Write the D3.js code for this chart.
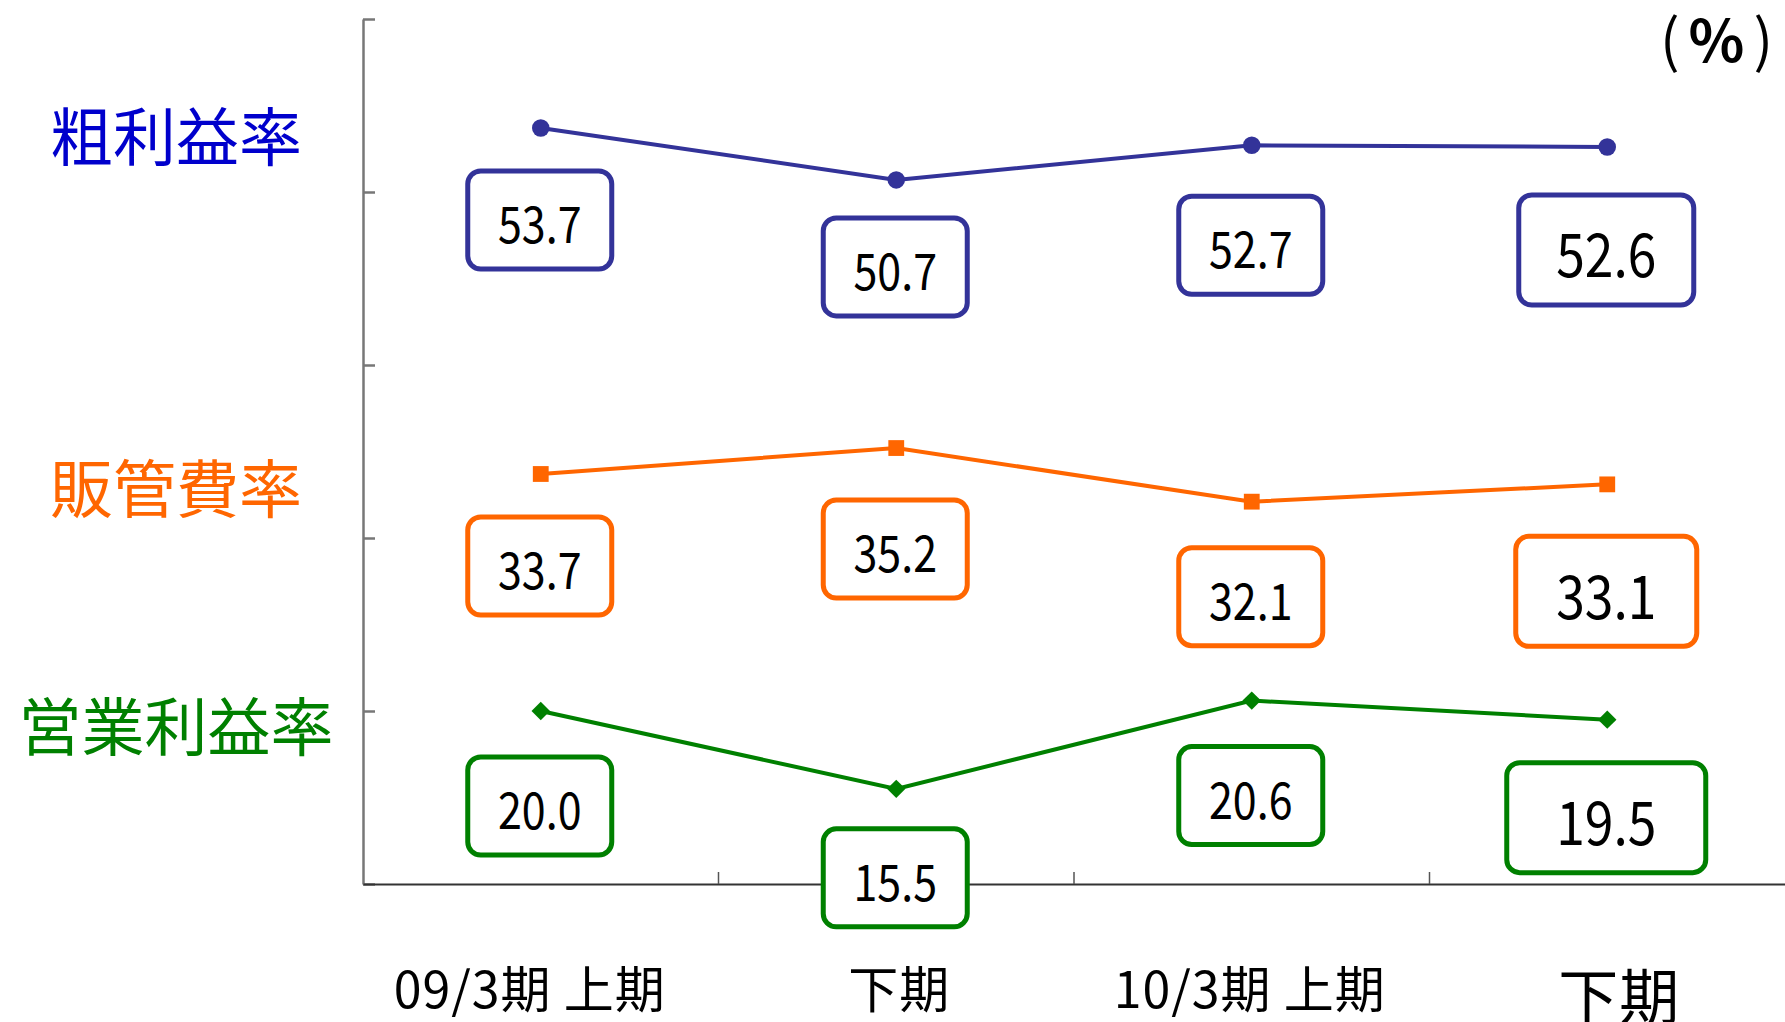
<!DOCTYPE html>
<html>
<head>
<meta charset="utf-8">
<script src="https://cdn.jsdelivr.net/npm/d3@7"></script>
<style>
  html, body { margin: 0; padding: 0; background: #fff; overflow: hidden; }
  text { font-family: "Noto Sans CJK JP", sans-serif; }
</style>
</head>
<body>
<svg id="chart" width="1785" height="1022"></svg>
<script>
// categories on the x axis
const periods = ["09/3期 上期", "下期", "10/3期 上期", "下期"];

// series (percent)
const seriesNames = ["粗利益率", "販管費率", "営業利益率"];
const grossMargin = [53.7, 50.7, 52.7, 52.6];
const sgaRatio = [33.7, 35.2, 32.1, 33.1];
const operatingMargin = [20.0, 15.5, 20.6, 19.5];

// y axis ticks (no labels shown)
const yTicks = [10, 20, 30, 40, 50, 60];
const unitLabel = ["(", "%", ")"];

const svg = d3.select("#chart");
const width = +svg.attr("width");
const height = +svg.attr("height");
const margin = { top: 19, right: 0, bottom: 138, left: 363 };

const x = d3.scaleBand()
  .domain(d3.range(periods.length))
  .range([margin.left, width - margin.right]);
const cx = i => x(i) + x.bandwidth() / 2;

const y = d3.scaleLinear()
  .domain([d3.min(yTicks), d3.max(yTicks)])
  .range([height - margin.bottom, margin.top]);

// styling / label layout per series
const series = [
  { name: seriesNames[0], values: grossMargin, line: "#333399", text: "#0000cc",
    symbol: d3.symbolCircle, size: 240, rotate: 0, nameY: 132, dy: [92, 87, 100, 103], lastW: 175 },
  { name: seriesNames[1], values: sgaRatio, line: "#ff6600", text: "#ff6600",
    symbol: d3.symbolSquare, size: 250, rotate: 0, nameY: 484, dy: [92, 101, 95, 107], lastW: 181 },
  { name: seriesNames[2], values: operatingMargin, line: "#008000", text: "#008000",
    symbol: d3.symbolSquare, size: 170, rotate: 45, nameY: 722, dy: [95, 89, 95, 98], lastW: 199 }
];
const xLabelShift = [-11, 3, -2, 12];

// y axis
svg.append("g")
  .attr("transform", `translate(${margin.left},0)`)
  .call(d3.axisLeft(y).tickValues(yTicks).tickSize(-12).tickSizeOuter(0).tickFormat(""))
  .call(g => g.selectAll("path, line").attr("stroke", "#777").attr("stroke-width", 2.5));

// x axis
const xAxis = svg.append("g")
  .attr("transform", `translate(0,${y(10)})`)
  .call(d3.axisBottom(x).tickSize(0).tickSizeOuter(0).tickFormat(""))
  .call(g => g.select(".domain").attr("stroke", "#333").attr("stroke-width", 2));

xAxis.selectAll(".boundary")
  .data(d3.range(1, periods.length))
  .enter().append("line")
  .attr("x1", d => x(d)).attr("x2", d => x(d))
  .attr("y1", 0).attr("y2", -12)
  .attr("stroke", "#555").attr("stroke-width", 1.5);

// x labels
svg.selectAll(".xlabel")
  .data(periods)
  .enter().append("text")
  .attr("class", "xlabel")
  .attr("x", (d, i) => cx(i) + xLabelShift[i])
  .attr("y", (d, i) => i === periods.length - 1 ? 992 : 986)
  .attr("text-anchor", "middle")
  .attr("dominant-baseline", "central")
  .attr("font-size", (d, i) => i === periods.length - 1 ? 60 : 50)
  .attr("letter-spacing", 1)
  .attr("fill", "#000")
  .text(d => d);

// unit
svg.append("text")
  .attr("x", width - 12)
  .attr("y", 62)
  .attr("text-anchor", "end")
  .attr("font-family", "Liberation Sans, Arial, sans-serif")
  .attr("font-size", 58)
  .attr("fill", "#000")
  .selectAll("tspan")
  .data(unitLabel)
  .enter().append("tspan")
  .attr("dx", (d, i) => i === 0 ? 0 : 9)
  .attr("font-weight", d => d === "%" ? "bold" : "normal")
  .text(d => d);

const line = d3.line().x((d, i) => cx(i)).y(d => y(d));

series.forEach(s => {
  // series name
  svg.append("text")
    .attr("x", 176)
    .attr("y", s.nameY)
    .attr("text-anchor", "middle")
    .attr("dominant-baseline", "central")
    .attr("font-size", 63)
    .attr("fill", s.text)
    .text(s.name);

  svg.append("path")
    .datum(s.values)
    .attr("d", line)
    .attr("fill", "none")
    .attr("stroke", s.line)
    .attr("stroke-width", 4);

  svg.selectAll(null)
    .data(s.values)
    .enter().append("path")
    .attr("d", d3.symbol().type(s.symbol).size(s.size))
    .attr("transform", (d, i) => `translate(${cx(i)},${y(d)}) rotate(${s.rotate})`)
    .attr("fill", s.line);

  // value boxes
  const box = svg.selectAll(null)
    .data(s.values)
    .enter().append("g")
    .attr("transform", (d, i) => `translate(${cx(i) - 1},${y(d) + s.dy[i]})`);

  const last = s.values.length - 1;
  box.append("rect")
    .attr("x", (d, i) => -(i === last ? s.lastW : 144) / 2)
    .attr("y", (d, i) => -(i === last ? 110 : 98) / 2)
    .attr("width", (d, i) => i === last ? s.lastW : 144)
    .attr("height", (d, i) => i === last ? 110 : 98)
    .attr("rx", 13)
    .attr("fill", "#fff")
    .attr("stroke", s.line)
    .attr("stroke-width", 5);

  box.append("text")
    .attr("text-anchor", "middle")
    .attr("dominant-baseline", "central")
    .attr("transform", "scale(0.86,1)")
    .attr("y", 1)
    .attr("font-family", "Liberation Sans, Arial, sans-serif")
    .attr("font-size", (d, i) => i === last ? 60 : 50)
    .attr("fill", "#000")
    .text(d => d.toFixed(1));
});
</script>
</body>
</html>
